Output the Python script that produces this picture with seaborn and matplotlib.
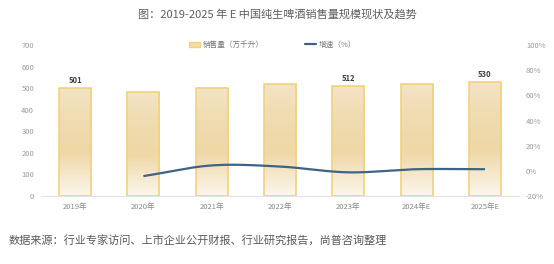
import numpy as np
import pandas as pd
import matplotlib
matplotlib.use("Agg")
import matplotlib.pyplot as plt
import seaborn as sns
from matplotlib.colors import LinearSegmentedColormap

years = ["2019年", "2020年", "2021年", "2022年", "2023年", "2024年E", "2025年E"]
sales = [501, 480, 501, 518, 512, 518, 530]
growth_years = ["2020年", "2021年", "2022年", "2023年", "2024年E", "2025年E"]
growth = [-4.2, 4.3, 3.4, -1.2, 1.3, 1.3]
labeled = {"2019年": 501, "2023年": 512, "2025年E": 530}
left_ticks = [0, 100, 200, 300, 400, 500, 600, 700]
right_ticks = [-20, 0, 20, 40, 60, 80, 100]

sns.set_theme(style="white")
plt.rcParams['font.family'] = ['Noto Sans CJK SC', 'DejaVu Sans']

fig = plt.figure(figsize=(5.54, 2.64), dpi=100)
ax = fig.add_axes([0.074, 0.2576, 0.863, 0.5719])
df = pd.DataFrame({"year": years, "sales": sales})
sns.barplot(data=df, x="year", y="sales", ax=ax, width=0.47,
            color="#F1DCAE", edgecolor="#F2D27C", linewidth=1.2, zorder=2)

cmap = LinearSegmentedColormap.from_list(
    "g", [(0.0, "#FBF7EE"), (0.4, "#EFD7A6"), (0.75, "#F0DDB3"), (1.0, "#F3E4C6")])
grad = np.linspace(0, 1, 256).reshape(-1, 1)
for p in ax.patches:
    x0, y0 = p.get_x(), p.get_y()
    w, h = p.get_width(), p.get_height()
    im = ax.imshow(grad, cmap=cmap, origin="lower", aspect="auto",
                   extent=[x0, x0 + w, y0, y0 + h], zorder=1.5)
    im.set_clip_path(p)
    p.set_facecolor("none")
    p.set_zorder(3)

ax.set_xlim(-0.5, len(years) - 0.5)
ax.set_ylim(0, 700)
ax.set_yticks(left_ticks)
ax.set_yticklabels([str(t) for t in left_ticks])
ax.set_xlabel("")
ax.set_ylabel("")
ax.tick_params(axis="y", labelsize=5.5, colors="#9A9A9A", length=0, pad=5)
ax.tick_params(axis="x", labelsize=5.5, colors="#8A8A8A", length=0, pad=5)
for s in ["top", "right", "left"]:
    ax.spines[s].set_visible(False)
ax.spines["bottom"].set_color("#E3E3E3")
ax.spines["bottom"].set_linewidth(0.8)

for i, y in enumerate(years):
    if y in labeled:
        ax.text(i, sales[i] + 12, str(labeled[y]), ha="center", va="bottom",
                fontsize=5.5, fontweight="bold", color="#404040", zorder=5)

ax2 = ax.twinx()
ax2.set_ylim(-20, 100)
ax2.set_yticks(right_ticks)
ax2.set_yticklabels([f"{t}%" for t in right_ticks])
ax2.tick_params(axis="y", labelsize=5.5, colors="#9A9A9A", length=0, pad=5)
for s in ["top", "right", "left", "bottom"]:
    ax2.spines[s].set_visible(False)

# smooth curve through growth points (cubic Hermite)
gx = np.array([years.index(y) for y in growth_years], dtype=float)
gy = np.array(growth, dtype=float)
n = len(gx)
m = np.zeros(n)
for k in range(n):
    if k == 0:
        m[k] = (gy[1] - gy[0]) / (gx[1] - gx[0])
    elif k == n - 1:
        m[k] = (gy[-1] - gy[-2]) / (gx[-1] - gx[-2])
    else:
        m[k] = (gy[k + 1] - gy[k - 1]) / (gx[k + 1] - gx[k - 1])
xs, ys = [], []
for k in range(n - 1):
    t = np.linspace(0, 1, 40)
    h = gx[k + 1] - gx[k]
    h00 = 2 * t**3 - 3 * t**2 + 1
    h10 = t**3 - 2 * t**2 + t
    h01 = -2 * t**3 + 3 * t**2
    h11 = t**3 - t**2
    xs.extend(gx[k] + t * h)
    ys.extend(h00 * gy[k] + h10 * h * m[k] + h01 * gy[k + 1] + h11 * h * m[k + 1])
ax2.plot(xs, ys, color="#3F6386", linewidth=1.6, solid_capstyle="butt", zorder=6)

from matplotlib.patches import Patch
from matplotlib.lines import Line2D
handles = [Patch(facecolor="#F1DCAE", edgecolor="#F2D27C", linewidth=1.0),
           Line2D([0], [0], color="#3F6386", linewidth=1.6)]
fig.legend(handles, ["销售量（万千升）", "增速（%）"], loc="center",
           bbox_to_anchor=(0.492, 0.83), ncol=2, frameon=False,
           fontsize=5.5, labelcolor="#7A7A7A", handlelength=1.4,
           handleheight=0.6, columnspacing=5.5, handletextpad=0.3)

fig.text(0.5, 0.945, "图：2019-2025 年 E 中国纯生啤酒销售量规模现状及趋势",
         ha="center", va="center", fontsize=8, color="#5E5E5E")
fig.text(0.016, 0.087, "数据来源：行业专家访问、上市企业公开财报、行业研究报告，尚普咨询整理",
         ha="left", va="center", fontsize=8.05, color="#5A5A5A")

fig.savefig("out.png", dpi=100, facecolor="white")
